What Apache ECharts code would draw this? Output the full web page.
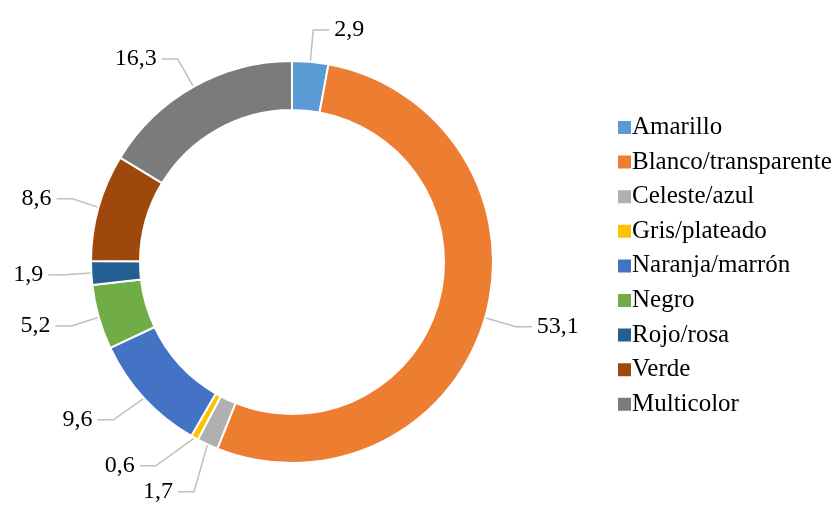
<!DOCTYPE html>
<html>
<head>
<meta charset="utf-8">
<script src="https://cdn.jsdelivr.net/npm/echarts@6/dist/echarts.min.js"></script>
<style>
  html, body { margin: 0; padding: 0; background: #fff; }
  #chart { width: 835px; height: 521px; }
</style>
</head>
<body>
<div id="chart"></div>
<script>
// categories and values (percent)
const categories = ['Amarillo', 'Blanco/transparente', 'Celeste/azul', 'Gris/plateado',
  'Naranja/marrón', 'Negro', 'Rojo/rosa', 'Verde', 'Multicolor']
const values = [2.9, 53.1, 1.7, 0.6, 9.6, 5.2, 1.9, 8.6, 16.3]
const colors = ['#5b9bd5', '#ed7d31', '#b0b0b0', '#ffc000', '#4472c4',
  '#70ad47', '#255e91', '#9e480e', '#7b7b7b']

const chart = echarts.init(document.getElementById('chart'), null, { renderer: 'canvas' })

const fontFamily = '"Liberation Serif", "Times New Roman", serif'

chart.setOption({
  animation: false,
  color: colors,
  legend: {
    orient: 'vertical',
    left: 611,
    top: 110,
    itemWidth: 15,
    itemHeight: 15,
    itemGap: 9.6,
    icon: 'rect',
    textStyle: {
      fontFamily: fontFamily,
      fontSize: 25,
      color: '#000',
      padding: [0, 0, 0, -5]
    },
    data: categories
  },
  series: [
    {
      type: 'pie',
      center: [292, 262],
      radius: [152, 201],
      startAngle: 90,
      clockwise: true,
      avoidLabelOverlap: true,
      itemStyle: {
        borderColor: '#fff',
        borderWidth: 2
      },
      label: {
        show: true,
        position: 'outside',
        fontFamily: fontFamily,
        fontSize: 24,
        color: '#000',
        formatter: p => String(p.value).replace('.', ',')
      },
      labelLine: {
        show: true,
        length: 32,
        length2: 16,
        lineStyle: { color: '#bfbfbf', width: 1.5 }
      },
      data: categories.map((name, i) => ({ name: name, value: values[i] }))
    }
  ]
})
</script>
</body>
</html>
